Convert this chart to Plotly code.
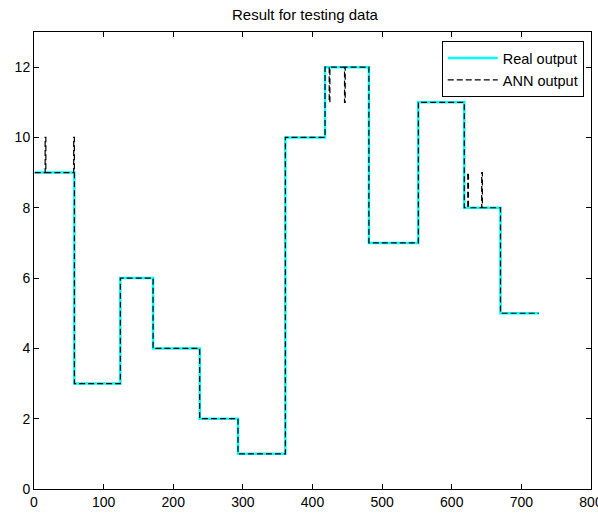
import plotly.graph_objects as go

# Step data: sample index where each level starts, and the level
real_x = [1, 58, 124, 171, 238, 293, 361, 418, 481, 552, 618, 670, 725]
real_y = [9, 3, 6, 4, 2, 1, 10, 12, 7, 11, 8, 5, 5]

ann_x = [1, 16, 17, 57, 58, 124, 171, 238, 293, 361, 418, 424, 425, 446, 447,
         481, 552, 618, 623, 624, 643, 644, 670, 725]
ann_y = [9, 10, 9, 10, 3, 6, 4, 2, 1, 10, 12, 11, 12, 11, 12,
         7, 11, 8, 9, 8, 9, 8, 5, 5]

x_ticks = [0, 100, 200, 300, 400, 500, 600, 700, 800]
y_ticks = [0, 2, 4, 6, 8, 10, 12]

FONT = "Liberation Sans, Arial"

fig = go.Figure()
fig.add_trace(go.Scatter(x=real_x, y=real_y, mode="lines", line_shape="hv",
                         name="Real output",
                         line=dict(color="#00FFFF", width=2.5)))
fig.add_trace(go.Scatter(x=ann_x, y=ann_y, mode="lines", line_shape="hv",
                         name="ANN output",
                         line=dict(color="black", width=1.2, dash="6px,3px")))

axis_common = dict(showline=True, linecolor="black", linewidth=1, mirror="allticks",
                   ticks="inside", ticklen=5, tickcolor="black", showgrid=False,
                   zeroline=False, automargin=False,
                   tickfont=dict(family=FONT, size=14, color="black"))

fig.update_layout(
    width=598, height=513,
    margin=dict(l=34, r=7, t=32, b=24),
    paper_bgcolor="white", plot_bgcolor="white",
    title=dict(text="Result for testing data", x=0.51, xanchor="center",
               y=1 - 15 / 513, yanchor="middle",
               font=dict(family=FONT, size=15, color="black")),
    xaxis=dict(range=[0, 800], tickvals=x_ticks, ticklabeloverflow="allow", **axis_common),
    yaxis=dict(range=[0, 13], tickvals=y_ticks, **axis_common),
    legend=dict(x=0.987, y=0.98, xanchor="right", yanchor="top",
                bgcolor="white", bordercolor="black", borderwidth=1,
                font=dict(family=FONT, size=14.5, color="black"),
                tracegroupgap=0, itemwidth=50),
    showlegend=True,
)

fig.write_html("out.html", config={"displayModeBar": False},
               post_script="document.body.style.margin='0';document.body.style.overflow='hidden';")
